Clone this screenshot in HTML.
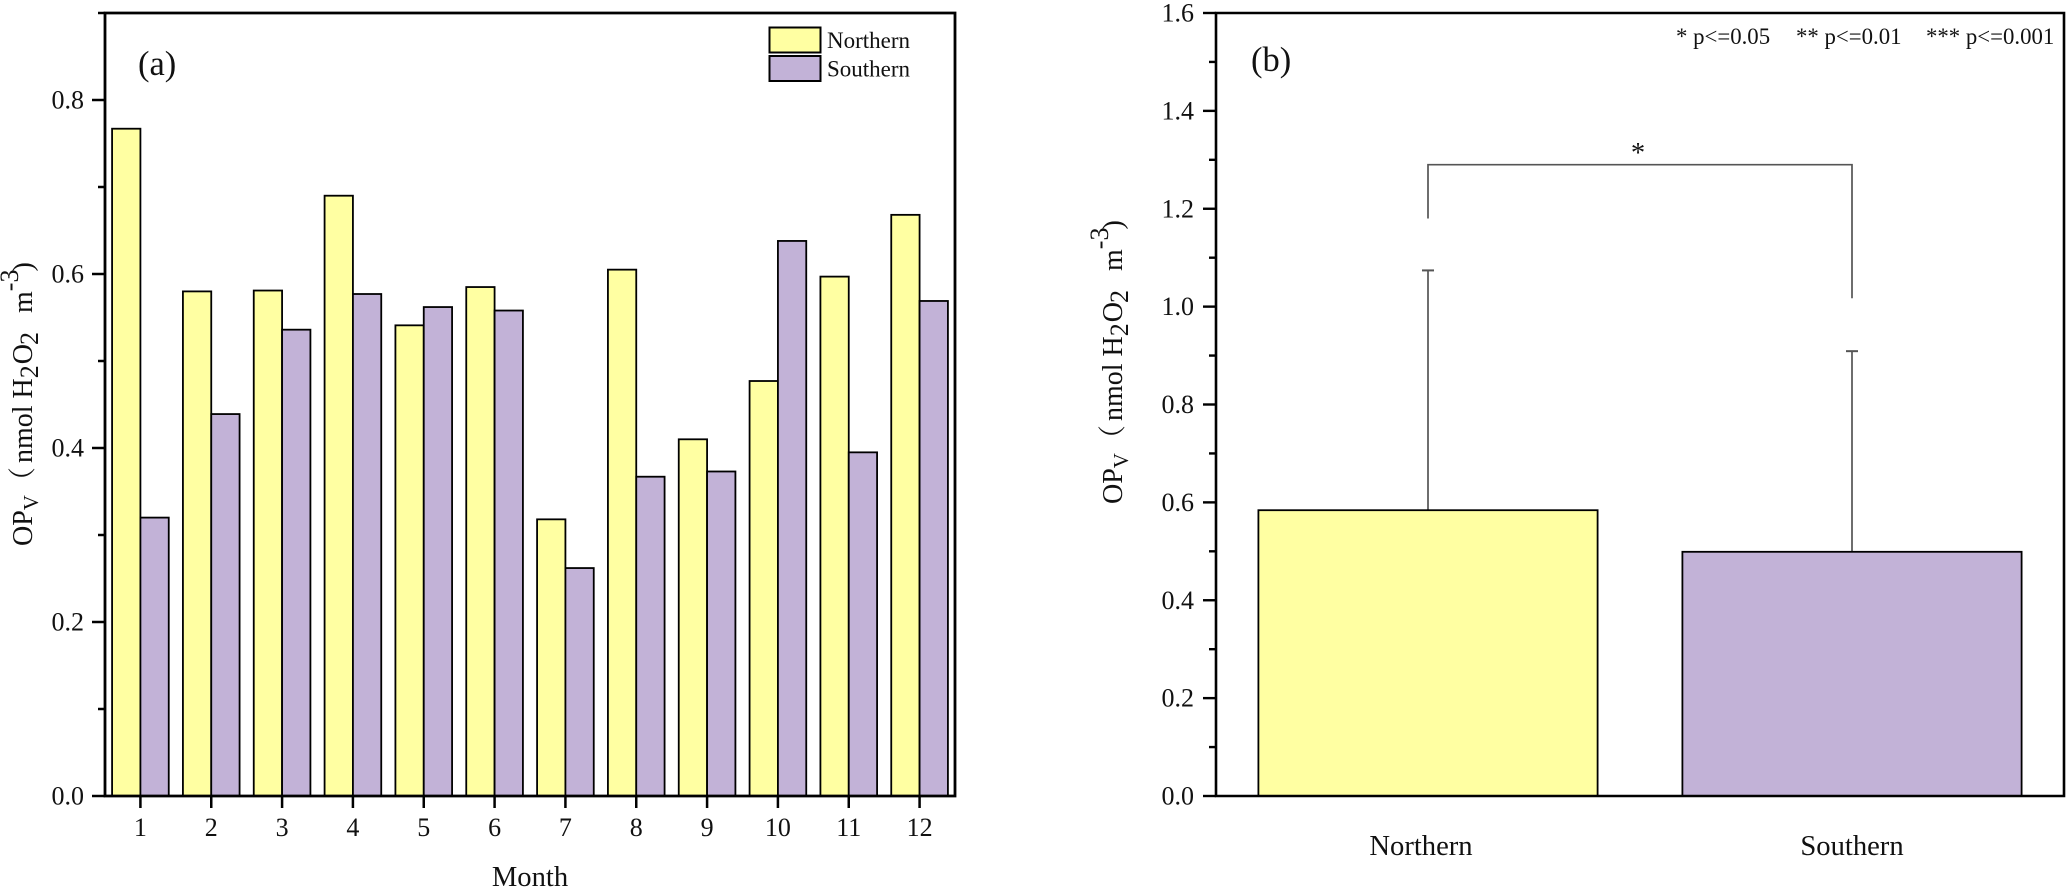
<!DOCTYPE html>
<html>
<head>
<meta charset="utf-8">
<style>
html,body{margin:0;padding:0;background:#fff;}
svg{display:block;}
text{font-family:"Liberation Serif","Noto Serif CJK SC",serif;fill:#111;}
</style>
</head>
<body>
<svg id="figure" width="2067" height="889" viewBox="0 0 2067 889" xmlns="http://www.w3.org/2000/svg">
  <g id="panel-a"></g>
  <g id="panel-b"></g>
</svg>
<script>
const months = ['1','2','3','4','5','6','7','8','9','10','11','12'];
const seriesNames = ['Northern','Southern'];
const northernMonthly = [0.767,0.580,0.581,0.690,0.541,0.585,0.318,0.605,0.410,0.477,0.597,0.668];
const southernMonthly = [0.320,0.439,0.536,0.577,0.562,0.558,0.262,0.367,0.373,0.638,0.395,0.569];
const yTicksA = [0,0.2,0.4,0.6,0.8];
const yMinorA = [0.1,0.3,0.5,0.7,0.9];
const regions = ['Northern','Southern'];
const regionMeans = [0.584,0.499];
const regionErrorTops = [1.074,0.909];
const yTicksB = [0,0.2,0.4,0.6,0.8,1.0,1.2,1.4,1.6];
const yMinorB = [0.1,0.3,0.5,0.7,0.9,1.1,1.3,1.5];
const bracketTop = 1.29;
const bracketEnds = [1.18,1.017];
const pNotes = ['* p<=0.05','** p<=0.01','*** p<=0.001'];

const NS = 'http://www.w3.org/2000/svg';
const YELLOW = '#ffffa2';
const PURPLE = '#c2b2d7';
function mk(parent, tag, attrs, text) {
  const el = document.createElementNS(NS, tag);
  for (const k in attrs) el.setAttribute(k, attrs[k]);
  if (text !== undefined) el.textContent = text;
  parent.appendChild(el);
  return el;
}
function addSpan(parent, str, size, dy, dx, spacing) {
  const s = mk(parent, 'tspan', {'font-size': size, dy: dy, dx: dx || 0, 'letter-spacing': spacing || 0}, str);
  
  
}
function yTitle(parent, baseX, startY) {
  const t = mk(parent, 'text', {transform: 'translate(' + baseX + ',' + startY + ') rotate(-90)', 'font-size': 28});
  
  
  addSpan(t, 'OP', 28, 0);
  addSpan(t, 'V', 21, 6);
  addSpan(t, '\uFF08', 28, -6);
  addSpan(t, 'nmol H', 28, 0, 4);
  addSpan(t, '2', 26, 6, 0, 3);
  addSpan(t, 'O', 28, -6, -2);
  addSpan(t, '2', 26, 6, -1, 3);
  addSpan(t, ' ', 28, -6);
  addSpan(t, 'm', 28, 0, 9);
  addSpan(t, '-3', 26, -14);
  addSpan(t, ')', 28, 14, -2);
}

/* ---------- panel a ---------- */
const gA = document.getElementById('panel-a');
const A = {l:105, r:955, t:13, b:796, xMin:0.5, xMax:12.5, yMax:0.9};
const xA = v => A.l + (v - A.xMin) / (A.xMax - A.xMin) * (A.r - A.l);
const yA = v => A.b - v / A.yMax * (A.b - A.t);
const barW = xA(1.4) - xA(1);
months.forEach((m, i) => {
  const c = xA(i + 1);
  const r1 = mk(gA, 'rect', {x: c - barW, y: yA(northernMonthly[i]), width: barW, height: A.b - yA(northernMonthly[i]), fill: YELLOW, stroke: '#000', 'stroke-width': 1.8});
  
  
  const r2 = mk(gA, 'rect', {x: c, y: yA(southernMonthly[i]), width: barW, height: A.b - yA(southernMonthly[i]), fill: PURPLE, stroke: '#000', 'stroke-width': 1.8});
  
  
  const tk = mk(gA, 'line', {x1: c, x2: c, y1: A.b, y2: A.b + 12, stroke: '#000', 'stroke-width': 2.5});
  
  
  const lb = mk(gA, 'text', {x: c, y: 836, 'font-size': 26, 'text-anchor': 'middle'}, m);
  
  
});
const frameA = mk(gA, 'path', {d: 'M' + A.l + ' ' + A.b + 'V' + A.t + 'H' + A.r + 'V' + A.b + 'Z', fill: 'none', stroke: '#000', 'stroke-width': 2.8});


yTicksA.forEach(v => {
  const t = mk(gA, 'line', {x1: A.l - 13, x2: A.l, y1: yA(v), y2: yA(v), stroke: '#000', 'stroke-width': 2.5});
  
  
  const l = mk(gA, 'text', {x: 84, y: yA(v) + 8.5, 'font-size': 26, 'text-anchor': 'end'}, v.toFixed(1));
  
  
});
yMinorA.forEach(v => {
  const t = mk(gA, 'line', {x1: A.l - 7, x2: A.l, y1: yA(v), y2: yA(v), stroke: '#000', 'stroke-width': 2.5});
  
  
});
const monthTitle = mk(gA, 'text', {x: 530, y: 886, 'font-size': 28.6, 'text-anchor': 'middle'}, 'Month');


yTitle(gA, 32, 546);
const tagA = mk(gA, 'text', {x: 138, y: 75, 'font-size': 34.5}, '(a)');


seriesNames.forEach((n, i) => {
  const sw = mk(gA, 'rect', {x: 769.5, y: 27.5 + i * 28.5, width: 51, height: 25, fill: i ? PURPLE : YELLOW, stroke: '#000', 'stroke-width': 2});
  
  
  const lt = mk(gA, 'text', {x: 827, y: 48 + i * 28.5, 'font-size': 23}, n);
  
  
});

/* ---------- panel b ---------- */
const gB = document.getElementById('panel-b');
const B = {l:1216, r:2064, t:13, b:796, xMin:0.5, xMax:2.5, yMax:1.6};
const xB = v => B.l + (v - B.xMin) / (B.xMax - B.xMin) * (B.r - B.l);
const yB = v => B.b - v / B.yMax * (B.b - B.t);
const widthB = xB(1.8) - xB(1);
regions.forEach((n, i) => {
  const c = xB(i + 1);
  const err = mk(gB, 'line', {x1: c, x2: c, y1: yB(regionMeans[i]), y2: yB(regionErrorTops[i]), stroke: '#555', 'stroke-width': 1.7});
  
  
  const cap = mk(gB, 'line', {x1: c - 6, x2: c + 6, y1: yB(regionErrorTops[i]), y2: yB(regionErrorTops[i]), stroke: '#555', 'stroke-width': 2});
  
  
  const r = mk(gB, 'rect', {x: c - widthB / 2, y: yB(regionMeans[i]), width: widthB, height: B.b - yB(regionMeans[i]), fill: i ? PURPLE : YELLOW, stroke: '#000', 'stroke-width': 1.8});
  
  
  const l = mk(gB, 'text', {x: i ? c : c - 7, y: 855, 'font-size': 28.6, 'text-anchor': 'middle'}, n);
  
  
});
const frameB = mk(gB, 'path', {d: 'M' + B.l + ' ' + B.b + 'V' + B.t + 'H' + B.r + 'V' + B.b + 'Z', fill: 'none', stroke: '#000', 'stroke-width': 2.6});


yTicksB.forEach(v => {
  const t = mk(gB, 'line', {x1: B.l - 13, x2: B.l, y1: yB(v), y2: yB(v), stroke: '#000', 'stroke-width': 2.4});
  
  
  const l = mk(gB, 'text', {x: 1194, y: yB(v) + 8.5, 'font-size': 26, 'text-anchor': 'end'}, v.toFixed(1));
  
  
});
yMinorB.forEach(v => {
  const t = mk(gB, 'line', {x1: B.l - 7, x2: B.l, y1: yB(v), y2: yB(v), stroke: '#000', 'stroke-width': 2.4});
  
  
});
const bracket = mk(gB, 'path', {d: 'M' + xB(1) + ' ' + yB(bracketEnds[0]) + 'V' + yB(bracketTop) + 'H' + xB(2) + 'V' + yB(bracketEnds[1]), fill: 'none', stroke: '#555', 'stroke-width': 1.7});


const star = mk(gB, 'text', {x: 1638, y: 162, 'font-size': 28.6, 'text-anchor': 'middle'}, '*');


const noteStarts = [1676, 1796, 1926];
pNotes.forEach((n, i) => {
  const t = mk(gB, 'text', {x: noteStarts[i], y: 44, 'font-size': 22.8}, n);
  
  
});
yTitle(gB, 1122, 504);
const tagB = mk(gB, 'text', {x: 1251, y: 71, 'font-size': 34.5}, '(b)');


</script>
</body>
</html>
